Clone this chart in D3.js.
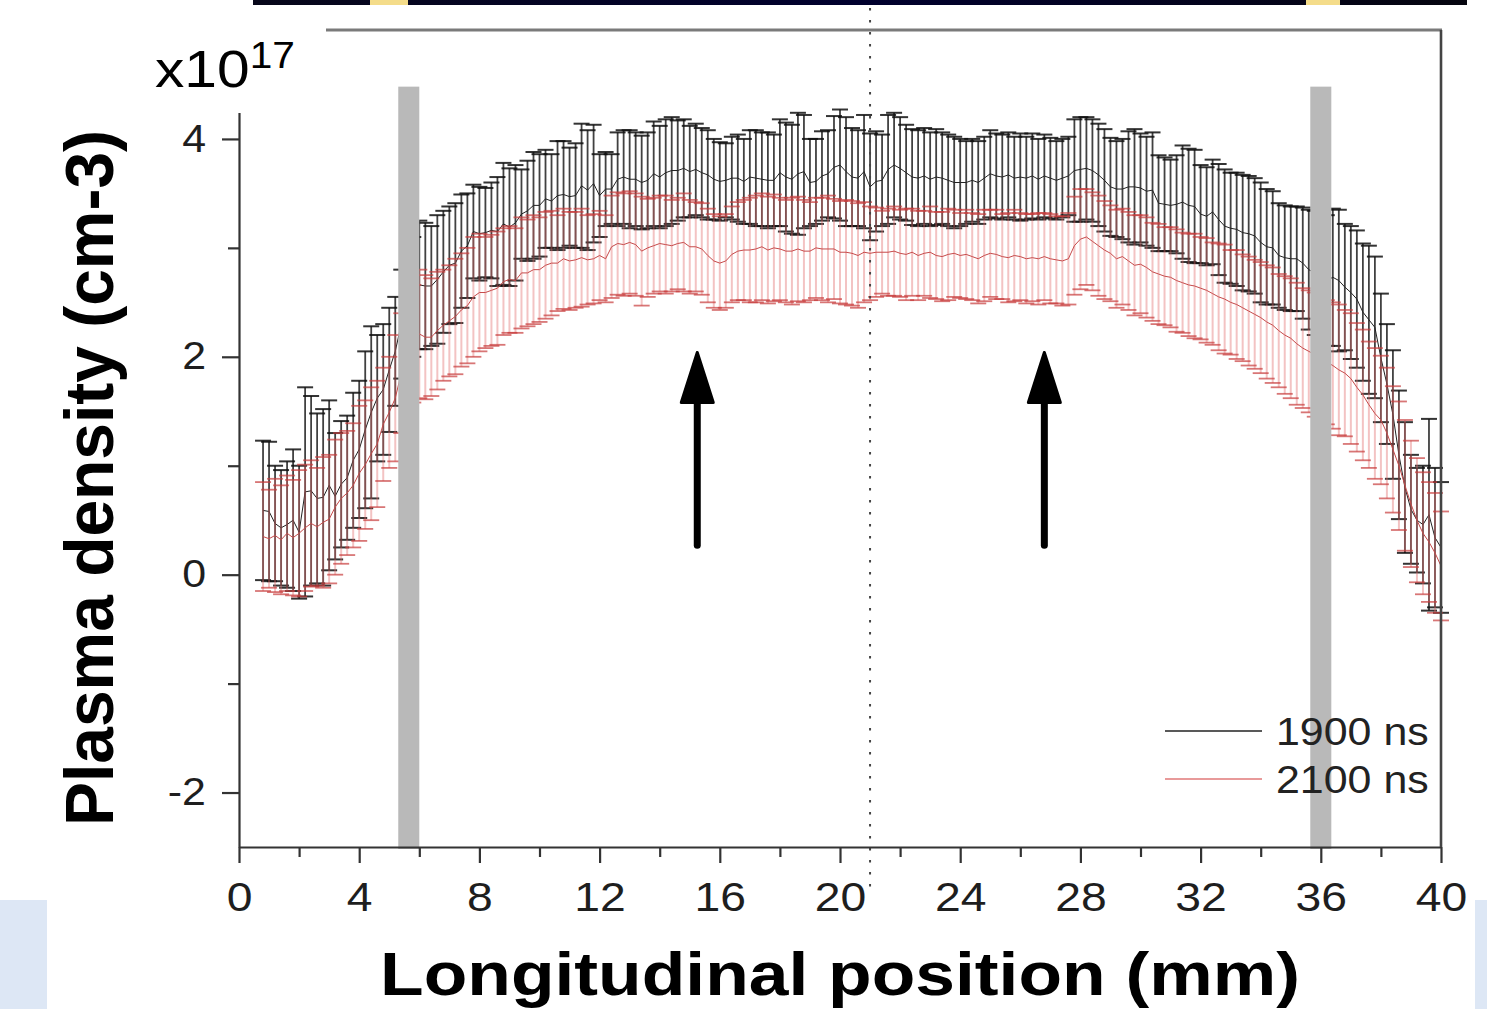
<!DOCTYPE html>
<html><head><meta charset="utf-8">
<script src="https://cdn.jsdelivr.net/npm/d3@7"></script>
<style>html,body{margin:0;padding:0;background:#fff;} svg{display:block;}</style>
</head><body>
<svg id="chart" width="1487" height="1009"></svg>
<script>
// ---------- data (plasma density, units of 1e17 cm^-3) ----------
const positionStart = 0.8;   // mm, first sample
const positionStep = 0.2;    // mm between samples

const ne1900 = [
0.59,0.58,0.47,0.43,0.46,0.50,0.39,0.76,0.77,0.70,
0.71,0.82,0.72,0.83,0.89,1.05,1.15,1.33,1.49,1.62,
1.70,1.88,2.05,2.30,2.42,2.55,2.66,2.65,2.65,2.71,
2.78,2.84,2.86,2.97,3.02,3.15,3.13,3.14,3.16,3.15,
3.22,3.19,3.23,3.31,3.34,3.39,3.39,3.45,3.43,3.48,
3.49,3.47,3.48,3.57,3.53,3.59,3.48,3.54,3.54,3.63,
3.65,3.63,3.63,3.60,3.62,3.68,3.65,3.69,3.71,3.71,
3.73,3.70,3.72,3.69,3.67,3.63,3.61,3.62,3.64,3.64,
3.61,3.65,3.64,3.63,3.62,3.62,3.69,3.65,3.63,3.68,
3.70,3.60,3.61,3.66,3.68,3.74,3.76,3.70,3.65,3.64,
3.70,3.56,3.61,3.62,3.72,3.76,3.73,3.69,3.65,3.64,
3.66,3.63,3.65,3.64,3.62,3.60,3.60,3.60,3.62,3.60,
3.64,3.68,3.66,3.65,3.67,3.64,3.65,3.64,3.66,3.63,
3.66,3.64,3.62,3.64,3.66,3.71,3.72,3.73,3.71,3.67,
3.62,3.56,3.54,3.54,3.56,3.56,3.55,3.52,3.53,3.41,
3.40,3.39,3.40,3.42,3.39,3.38,3.31,3.29,3.33,3.26,
3.20,3.18,3.17,3.14,3.13,3.11,3.05,3.01,3.00,2.93,
2.91,2.90,2.90,2.86,2.80,2.77,2.73,2.70,2.73,2.70,
2.64,2.59,2.53,2.41,2.34,2.27,1.99,1.75,1.47,1.10,
0.80,0.60,0.50,0.46,0.55,0.34,0.25];

const err1900 = [
0.64,0.64,0.53,0.53,0.58,0.65,0.61,0.96,0.87,0.78,
0.81,0.78,0.58,0.58,0.57,0.62,0.63,0.72,0.79,0.58,
0.60,0.57,0.50,0.50,0.52,0.55,0.59,0.58,0.55,0.59,
0.56,0.54,0.55,0.52,0.48,0.43,0.43,0.41,0.44,0.50,
0.56,0.54,0.53,0.41,0.46,0.49,0.47,0.45,0.43,0.50,
0.49,0.45,0.48,0.57,0.55,0.54,0.38,0.34,0.32,0.43,
0.43,0.45,0.43,0.43,0.44,0.48,0.47,0.49,0.49,0.46,
0.45,0.42,0.42,0.41,0.41,0.37,0.36,0.34,0.38,0.40,
0.39,0.43,0.44,0.43,0.44,0.42,0.49,0.50,0.50,0.56,
0.52,0.40,0.39,0.41,0.40,0.47,0.51,0.50,0.45,0.44,
0.52,0.49,0.46,0.42,0.50,0.48,0.47,0.44,0.44,0.44,
0.44,0.43,0.44,0.42,0.42,0.42,0.40,0.38,0.38,0.38,
0.38,0.40,0.39,0.39,0.39,0.38,0.40,0.38,0.39,0.37,
0.38,0.37,0.36,0.36,0.36,0.47,0.48,0.47,0.47,0.47,
0.47,0.45,0.44,0.46,0.51,0.53,0.50,0.50,0.53,0.44,
0.43,0.42,0.45,0.52,0.52,0.52,0.45,0.45,0.48,0.51,
0.52,0.51,0.52,0.53,0.53,0.53,0.55,0.53,0.52,0.48,
0.48,0.48,0.48,0.51,0.55,0.57,0.58,0.60,0.63,0.65,
0.58,0.61,0.63,0.63,0.68,0.65,0.59,0.55,0.59,0.59,
0.60,0.50,0.48,0.54,0.88,0.64,0.60];

const ne2100 = [
0.35,0.33,0.36,0.32,0.38,0.34,0.38,0.43,0.47,0.44,
0.48,0.51,0.62,0.70,0.75,0.82,0.93,1.01,1.11,1.20,
1.38,1.49,1.62,1.85,2.00,2.12,2.21,2.18,2.18,2.24,
2.29,2.33,2.37,2.43,2.47,2.55,2.59,2.59,2.61,2.63,
2.69,2.71,2.70,2.77,2.77,2.80,2.80,2.84,2.86,2.86,
2.90,2.88,2.89,2.91,2.89,2.90,2.93,2.90,3.01,3.04,
3.03,3.05,3.03,2.97,3.00,3.02,3.04,3.03,3.02,3.04,
3.05,3.01,3.01,2.99,2.93,2.88,2.86,2.88,2.94,2.97,
2.98,2.98,2.99,3.01,2.98,3.00,2.99,2.97,2.97,2.99,
2.97,2.97,3.00,2.99,2.99,2.99,2.96,2.96,2.95,2.93,
2.96,2.95,2.96,2.96,2.96,2.97,2.95,2.94,2.96,2.93,
2.95,2.96,2.93,2.92,2.94,2.95,2.93,2.94,2.92,2.90,
2.93,2.95,2.94,2.92,2.91,2.93,2.92,2.90,2.91,2.90,
2.92,2.90,2.89,2.88,2.90,3.02,3.08,3.10,3.06,3.02,
2.98,2.95,2.90,2.92,2.88,2.84,2.85,2.82,2.78,2.76,
2.74,2.73,2.70,2.68,2.66,2.65,2.63,2.61,2.58,2.55,
2.53,2.50,2.48,2.45,2.42,2.39,2.36,2.32,2.29,2.24,
2.20,2.17,2.12,2.08,2.05,2.02,1.98,1.95,1.92,1.88,
1.85,1.80,1.72,1.65,1.56,1.48,1.42,1.30,1.15,1.00,
0.82,0.65,0.50,0.38,0.30,0.20,0.08];

const err2100 = [
0.50,0.45,0.52,0.50,0.53,0.53,0.58,0.58,0.58,0.54,
0.60,0.59,0.62,0.60,0.57,0.57,0.62,0.59,0.61,0.58,
0.52,0.51,0.58,0.55,0.55,0.54,0.59,0.57,0.54,0.54,
0.51,0.51,0.53,0.52,0.53,0.55,0.54,0.51,0.51,0.52,
0.49,0.49,0.48,0.51,0.49,0.50,0.48,0.49,0.48,0.44,
0.46,0.45,0.44,0.45,0.41,0.41,0.41,0.40,0.47,0.47,
0.47,0.47,0.47,0.50,0.45,0.44,0.44,0.45,0.42,0.42,
0.45,0.43,0.41,0.42,0.43,0.43,0.43,0.43,0.44,0.45,
0.46,0.48,0.49,0.49,0.49,0.49,0.47,0.47,0.49,0.48,
0.47,0.45,0.46,0.47,0.49,0.46,0.47,0.48,0.48,0.48,
0.46,0.43,0.41,0.38,0.40,0.41,0.40,0.42,0.40,0.41,
0.39,0.42,0.40,0.41,0.42,0.40,0.39,0.41,0.40,0.41,
0.42,0.40,0.41,0.39,0.41,0.42,0.40,0.41,0.40,0.42,
0.40,0.41,0.40,0.41,0.42,0.45,0.46,0.44,0.45,0.46,
0.45,0.44,0.45,0.44,0.45,0.46,0.45,0.46,0.45,0.46,
0.45,0.46,0.47,0.46,0.47,0.48,0.47,0.48,0.47,0.49,
0.50,0.48,0.50,0.49,0.50,0.50,0.51,0.52,0.53,0.52,
0.54,0.55,0.56,0.55,0.56,0.57,0.58,0.57,0.58,0.60,
0.58,0.60,0.59,0.60,0.58,0.60,0.59,0.60,0.58,0.59,
0.60,0.58,0.57,0.56,0.55,0.55,0.50];

const seriesLabels = ["1900 ns", "2100 ns"];
const xMajorTicks = [0,4,8,12,16,20,24,28,32,36,40];
const xMinorTicks = [2,6,10,14,18,22,26,30,34,38];
const yMajorTicks = [-2,0,2,4];
const yMinorTicks = [-1,1,3];
const electrodeBands = [[5.3,6.0],[35.65,36.35]];   // mm
const electrodeTop = 4.48;
const arrowPositions = [15.25, 26.8];              // mm
const arrowFrom = 0.27, arrowTo = 2.04;
const centerLinePos = 21.0;                        // mm

// ---------- drawing ----------
const svg = d3.select("#chart");
const W = 1487, H = 1009;
const SX = 1.13;   // horizontal text stretch of the original figure
const FONT = "Liberation Sans, Arial, Helvetica, sans-serif";

const x = d3.scaleLinear().domain([0, 40]).range([239, 1441]);
const y = d3.scaleLinear().domain([-2.5, 5]).range([847, 30]);

svg.append("rect").attr("width", W).attr("height", H).attr("fill", "#fff");

// decorative slide remnants
const defs = svg.append("defs");
const grad = defs.append("linearGradient").attr("id", "band");
grad.append("stop").attr("offset", "0%").attr("stop-color", "#07071a");
grad.append("stop").attr("offset", "50%").attr("stop-color", "#00002e");
grad.append("stop").attr("offset", "100%").attr("stop-color", "#05050f");
svg.append("rect").attr("x", 253).attr("y", 0).attr("width", 1214).attr("height", 5).attr("fill", "url(#band)");
svg.append("rect").attr("x", 370).attr("y", 0).attr("width", 38).attr("height", 5).attr("fill", "#f4dc8a");
svg.append("rect").attr("x", 1306).attr("y", 0).attr("width", 34).attr("height", 5).attr("fill", "#f4dc8a");
svg.append("rect").attr("x", 0).attr("y", 900).attr("width", 47).attr("height", 109).attr("fill", "#dde7f5");
svg.append("rect").attr("x", 1475).attr("y", 900).attr("width", 12).attr("height", 109).attr("fill", "#dde7f5");

const pos = ne1900.map((_, i) => +(positionStart + i * positionStep).toFixed(2));
const s1 = pos.map((p, i) => ({p, m: ne1900[i], e: err1900[i]}));
const s2 = pos.map((p, i) => ({p, m: ne2100[i], e: err2100[i]}));

const capHalf = 8;
function errorBars(data, cls, vStyle, cStyle) {
  const g = svg.append("g").attr("class", cls);
  g.selectAll("line.v").data(data).join("line").attr("class", "v")
    .attr("x1", d => x(d.p)).attr("x2", d => x(d.p))
    .attr("y1", d => y(d.m + d.e)).attr("y2", d => y(d.m - d.e))
    .attr("stroke", vStyle.color).attr("stroke-width", vStyle.w).attr("stroke-opacity", vStyle.o);
  ["top", "bot"].forEach(k => {
    g.selectAll("line." + k).data(data).join("line").attr("class", k)
      .attr("x1", d => x(d.p) - capHalf).attr("x2", d => x(d.p) + capHalf)
      .attr("y1", d => y(k === "top" ? d.m + d.e : d.m - d.e))
      .attr("y2", d => y(k === "top" ? d.m + d.e : d.m - d.e))
      .attr("stroke", cStyle.color).attr("stroke-width", cStyle.w).attr("stroke-opacity", cStyle.o);
  });
}
const line = d3.line().x(d => x(d.p)).y(d => y(d.m));

errorBars(s1, "err1900", {color: "#111", w: 1.8, o: 0.8}, {color: "#111", w: 2, o: 0.85});
svg.append("path").datum(s1).attr("d", line).attr("fill", "none").attr("stroke", "#222").attr("stroke-width", 1);
errorBars(s2, "err2100", {color: "#e06a6a", w: 2, o: 0.4}, {color: "#c83c3c", w: 1.8, o: 0.7});
svg.append("path").datum(s2).attr("d", line).attr("fill", "none").attr("stroke", "#c64a4a").attr("stroke-width", 1);

// electrode bands
svg.selectAll("rect.band").data(electrodeBands).join("rect").attr("class", "band")
  .attr("x", d => x(d[0])).attr("width", d => x(d[1]) - x(d[0]))
  .attr("y", y(electrodeTop)).attr("height", y(-2.5) - y(electrodeTop) + 2)
  .attr("fill", "#b9b9b9");

// centre dotted line
svg.append("line").attr("x1", x(centerLinePos)).attr("x2", x(centerLinePos))
  .attr("y1", 8).attr("y2", 893)
  .attr("stroke", "#444").attr("stroke-width", 2).attr("stroke-dasharray", "2.5 9.5");

// arrows
arrowPositions.forEach(p => {
  const ax = x(p);
  svg.append("line").attr("x1", ax).attr("x2", ax).attr("y1", y(arrowFrom)).attr("y2", y(1.62))
    .attr("stroke", "#000").attr("stroke-width", 7).attr("stroke-linecap", "round");
  svg.append("path")
    .attr("d", `M${ax},${y(arrowTo)} L${ax - 16},${y(1.58)} L${ax + 16},${y(1.58)} Z`)
    .attr("fill", "#000").attr("stroke", "#000").attr("stroke-width", 3).attr("stroke-linejoin", "round");
});

// axes
const axStroke = "#333";
const fmt = d => (d < 0 ? "-" + Math.abs(d) : String(d));
function styleAxis(g) {
  g.selectAll("path.domain").attr("stroke", axStroke).attr("stroke-width", 2.2);
  g.selectAll(".tick line").attr("stroke", axStroke).attr("stroke-width", 2.2);
}
const gxMin = svg.append("g").attr("transform", `translate(0,${y(-2.5)})`)
  .call(d3.axisBottom(x).tickValues(xMinorTicks).tickSize(10).tickSizeOuter(0).tickFormat(""));
gxMin.select("path.domain").remove(); styleAxis(gxMin);
const gx = svg.append("g").attr("transform", `translate(0,${y(-2.5)})`)
  .call(d3.axisBottom(x).tickValues(xMajorTicks).tickSize(16).tickSizeOuter(0).tickPadding(19).tickFormat(fmt));
styleAxis(gx);
gx.selectAll("text").attr("font-family", FONT).attr("font-size", 41).attr("fill", "#1e1e1e")
  .attr("transform", `scale(${SX},1)`);

const gyMin = svg.append("g").attr("transform", `translate(${x(0)},0)`)
  .call(d3.axisLeft(y).tickValues(yMinorTicks).tickSize(11).tickSizeOuter(0).tickFormat(""));
gyMin.select("path.domain").remove(); styleAxis(gyMin);
const gy = svg.append("g").attr("transform", `translate(${x(0)},0)`)
  .call(d3.axisLeft(y).tickValues(yMajorTicks).tickSize(17).tickSizeOuter(0).tickPadding(16).tickFormat(fmt));
styleAxis(gy);
gy.selectAll("text").attr("font-family", FONT).attr("font-size", 38).attr("fill", "#1e1e1e")
  .attr("x", -33 / SX).attr("transform", `scale(${SX},1)`);

// frame top/right
svg.append("line").attr("x1", 326).attr("x2", x(40) + 1).attr("y1", y(5)).attr("y2", y(5))
  .attr("stroke", "#7a7a7a").attr("stroke-width", 3);
svg.append("line").attr("x1", x(40)).attr("x2", x(40)).attr("y1", y(5)).attr("y2", y(-2.5))
  .attr("stroke", "#444").attr("stroke-width", 2.6);

// exponent label box
svg.append("rect").attr("x", 120).attr("y", 8).attr("width", 205).attr("height", 105).attr("fill", "#fff");
const expo = svg.append("text").attr("transform", `translate(155,87) scale(${SX},1)`)
  .attr("font-family", FONT).attr("fill", "#000");
expo.append("tspan").attr("font-size", 52).text("x10");
expo.append("tspan").attr("font-size", 36).attr("dy", -19).text("17");

// legend
const legendY = [731, 779];
const legendColors = ["#222", "#e07878"];
seriesLabels.forEach((lab, i) => {
  svg.append("line").attr("x1", 1165).attr("x2", 1262).attr("y1", legendY[i]).attr("y2", legendY[i])
    .attr("stroke", legendColors[i]).attr("stroke-width", 1.6);
  svg.append("text").attr("transform", `translate(1276,${legendY[i] + 14}) scale(${SX},1)`)
    .attr("font-family", FONT).attr("font-size", 38).attr("fill", "#222").text(lab);
});

// axis titles
svg.append("text").attr("transform", `translate(840,995) scale(${SX},1)`)
  .attr("text-anchor", "middle").attr("font-family", FONT).attr("font-weight", "bold")
  .attr("font-size", 61).attr("fill", "#000")
  .attr("textLength", 814).attr("lengthAdjust", "spacingAndGlyphs")
  .text("Longitudinal position (mm)");
svg.append("text").attr("transform", `translate(113,478) scale(${SX},1) rotate(-90)`)
  .attr("text-anchor", "middle").attr("font-family", FONT).attr("font-weight", "bold")
  .attr("font-size", 60).attr("fill", "#000")
  .attr("textLength", 696).attr("lengthAdjust", "spacingAndGlyphs")
  .text("Plasma density (cm-3)");
</script>
</body></html>
